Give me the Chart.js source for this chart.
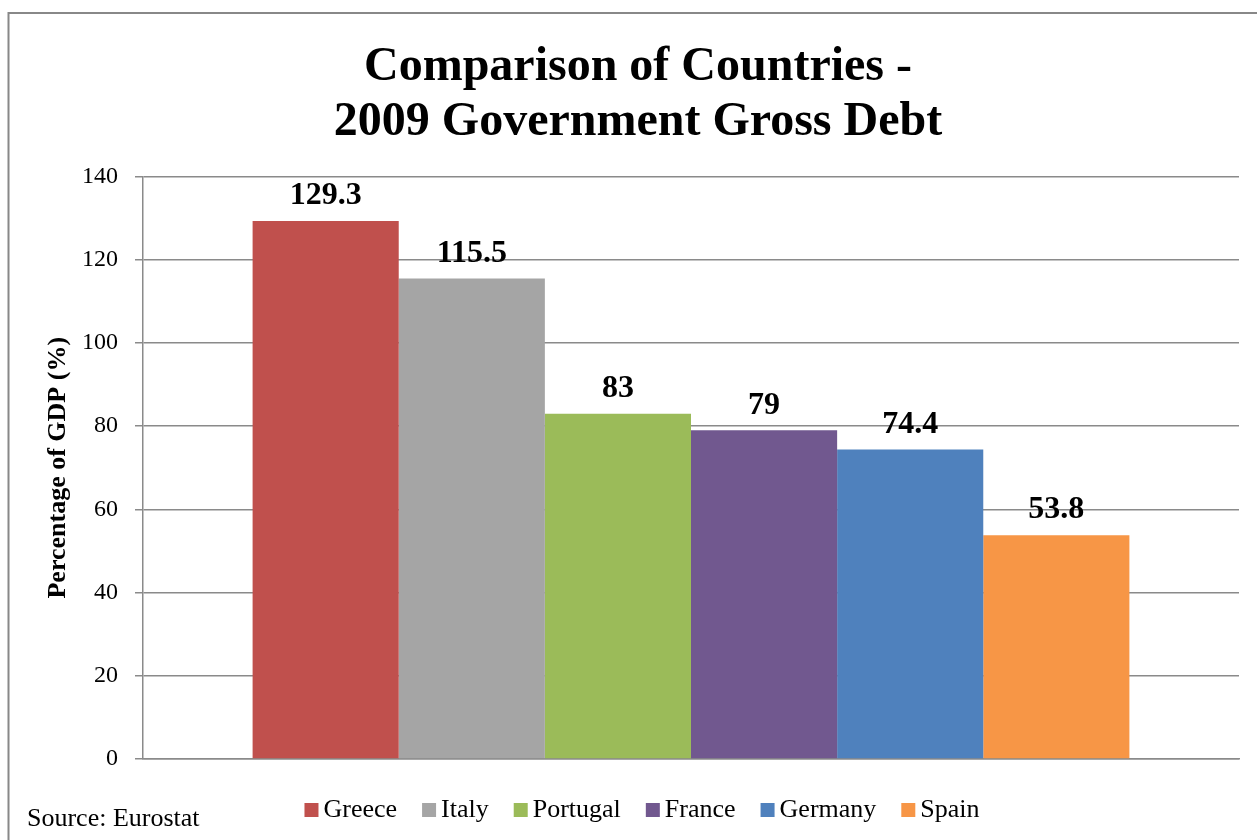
<!DOCTYPE html>
<html lang="en">
<head>
<meta charset="UTF-8">
<title>Comparison of Countries - 2009 Government Gross Debt</title>
<style>
  html, body { margin: 0; padding: 0; background: #fff; overflow: hidden; }
  canvas { display: block; }
</style>
</head>
<body>
<canvas id="debtChart" width="1257" height="840"></canvas>
<script src="https://cdn.jsdelivr.net/npm/chart.js"></script>
<script>
// 2009 general government gross debt, % of GDP
const countries = ['Greece', 'Italy', 'Portugal', 'France', 'Germany', 'Spain'];
const debtPct = [129.3, 115.5, 83, 79, 74.4, 53.8];
const barColors = ['#C0504D', '#A5A5A5', '#9BBB59', '#71588F', '#4F81BD', '#F79646'];
const yTicks = [0, 20, 40, 60, 80, 100, 120, 140];
const titleLines = ['Comparison of Countries -', '2009 Government Gross Debt'];
const yAxisTitle = 'Percentage of GDP (%)';
const sourceNote = 'Source: Eurostat';

const SERIF = "'Liberation Serif', 'Times New Roman', serif";
const GRID = '#8a8a8a';

// white background + grey frame around the whole chart
const frame = {
  id: 'frame',
  beforeDraw(chart) {
    const ctx = chart.ctx;
    ctx.save();
    ctx.fillStyle = '#fff';
    ctx.fillRect(0, 0, chart.width, chart.height);
    ctx.strokeStyle = '#888';
    ctx.lineWidth = 2;
    ctx.strokeRect(8.5, 13, chart.width + 40, chart.height + 40);
    ctx.restore();
  }
};

// value printed above each bar
const valueLabels = {
  id: 'valueLabels',
  afterDatasetsDraw(chart) {
    const ctx = chart.ctx;
    ctx.save();
    ctx.font = 'bold 32px ' + SERIF;
    ctx.fillStyle = '#000';
    ctx.textAlign = 'center';
    ctx.textBaseline = 'middle';
    chart.data.datasets.forEach((ds, i) => {
      const bar = chart.getDatasetMeta(i).data[0];
      ctx.fillText(String(ds.data[0]), bar.x, bar.y - 25);
    });
    ctx.restore();
  }
};

// legend row + source line under the plot
const bottomLegend = {
  id: 'bottomLegend',
  afterDraw(chart) {
    const ctx = chart.ctx;
    ctx.save();
    ctx.font = '26px ' + SERIF;
    ctx.textBaseline = 'middle';
    ctx.textAlign = 'left';
    const box = 14, gapIn = 5, gapOut = 25, y = 810;
    const items = chart.data.datasets.map(ds => ({
      text: ds.label,
      color: ds.backgroundColor,
      w: ctx.measureText(ds.label).width
    }));
    const total = items.reduce((s, it) => s + box + gapIn + it.w, 0) + gapOut * (items.length - 1);
    let x = 642 - total / 2;
    items.forEach(it => {
      ctx.fillStyle = it.color;
      ctx.fillRect(x, y - box / 2, box, box);
      x += box + gapIn;
      ctx.fillStyle = '#000';
      ctx.fillText(it.text, x, y);
      x += it.w + gapOut;
    });
    ctx.fillText(sourceNote, 27, 819);
    ctx.restore();
  }
};

new Chart(document.getElementById('debtChart'), {
  type: 'bar',
  data: {
    labels: [''],
    datasets: countries.map((name, i) => ({
      label: name,
      data: [debtPct[i]],
      backgroundColor: barColors[i],
      borderWidth: 0,
      categoryPercentage: 0.8,
      barPercentage: 1.0
    }))
  },
  options: {
    responsive: false,
    animation: false,
    devicePixelRatio: 1,
    layout: { padding: { left: 37, right: 18, top: 0, bottom: 73 } },
    plugins: {
      legend: { display: false },
      tooltip: { enabled: false },
      title: {
        display: true,
        text: titleLines,
        color: '#000',
        font: { family: SERIF, size: 48, weight: 'bold', lineHeight: 55 / 48 },
        padding: { top: 40, bottom: 26.5 }
      }
    },
    scales: {
      x: {
        ticks: { display: false },
        grid: { display: false },
        border: { display: true, color: GRID, width: 1.5 }
      },
      y: {
        min: 0,
        max: 140,
        afterBuildTicks(scale) {
          scale.ticks = yTicks.map(v => ({ value: v }));
        },
        afterFit(scale) {
          scale.width = 106;
        },
        ticks: {
          color: '#000',
          padding: 17,
          font: { family: SERIF, size: 24 }
        },
        grid: { color: GRID, lineWidth: 1.5, tickLength: 8 },
        border: { display: true, color: GRID, width: 1.5 },
        title: {
          display: true,
          text: yAxisTitle,
          color: '#000',
          font: { family: SERIF, size: 26, weight: 'bold' },
          padding: { top: 6, bottom: 0 }
        }
      }
    }
  },
  plugins: [frame, valueLabels, bottomLegend]
});
</script>
</body>
</html>
